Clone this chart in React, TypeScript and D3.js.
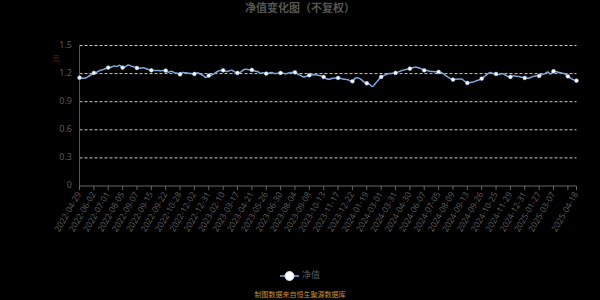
import React from "react";
import * as d3 from "d3";

const dates: string[] = [
  "2022-04-29","2022-05-06","2022-05-13","2022-05-20","2022-05-27","2022-06-02","2022-06-10","2022-06-17","2022-06-24","2022-06-30",
  "2022-07-01","2022-07-08","2022-07-15","2022-07-22","2022-07-29","2022-08-05","2022-08-12","2022-08-19","2022-08-26","2022-09-02",
  "2022-09-07","2022-09-08","2022-09-09","2022-09-13","2022-09-14","2022-09-15","2022-09-16","2022-09-19","2022-09-20","2022-09-21",
  "2022-09-22","2022-09-23","2022-09-30","2022-10-14","2022-10-21","2022-10-28","2022-11-04","2022-11-11","2022-11-18","2022-11-25",
  "2022-12-02","2022-12-09","2022-12-16","2022-12-23","2022-12-30","2022-12-31","2023-01-06","2023-01-13","2023-01-20","2023-02-03",
  "2023-02-10","2023-02-17","2023-02-24","2023-03-03","2023-03-10","2023-03-17","2023-03-24","2023-03-31","2023-04-07","2023-04-14",
  "2023-04-21","2023-04-28","2023-05-05","2023-05-12","2023-05-19","2023-05-26","2023-06-02","2023-06-09","2023-06-16","2023-06-21",
  "2023-06-30","2023-07-07","2023-07-14","2023-07-21","2023-07-28","2023-08-04","2023-08-11","2023-08-18","2023-08-25","2023-09-01",
  "2023-09-08","2023-09-15","2023-09-22","2023-09-28","2023-10-06","2023-10-13","2023-10-20","2023-10-27","2023-11-03","2023-11-10",
  "2023-11-17","2023-11-24","2023-12-01","2023-12-08","2023-12-15","2023-12-22","2023-12-29","2023-12-31","2024-01-05","2024-01-12",
  "2024-01-19","2024-01-26","2024-02-02","2024-02-08","2024-02-23","2024-03-01","2024-03-08","2024-03-15","2024-03-22","2024-03-29",
  "2024-03-31","2024-04-03","2024-04-12","2024-04-19","2024-04-26","2024-04-30","2024-05-10","2024-05-17","2024-05-24","2024-05-31",
  "2024-06-07","2024-06-14","2024-06-21","2024-06-28","2024-06-30","2024-07-05","2024-07-12","2024-07-19","2024-07-26","2024-08-02",
  "2024-08-09","2024-08-16","2024-08-23","2024-08-30","2024-09-06","2024-09-13","2024-09-20","2024-09-23","2024-09-24","2024-09-25",
  "2024-09-26","2024-09-27","2024-09-30","2024-10-11","2024-10-18","2024-10-25","2024-11-01","2024-11-08","2024-11-15","2024-11-22",
  "2024-11-29","2024-12-06","2024-12-13","2024-12-20","2024-12-27","2024-12-31","2025-01-03","2025-01-10","2025-01-17","2025-01-24",
  "2025-01-27","2025-02-07","2025-02-14","2025-02-21","2025-02-28","2025-03-07","2025-03-14","2025-03-21","2025-03-28","2025-03-31",
  "2025-04-03","2025-04-07","2025-04-11","2025-04-18"
];

const navValues: number[] = [
  1.157,1.150,1.152,1.168,1.185,1.207,1.215,1.232,1.242,1.252,
  1.264,1.268,1.282,1.276,1.289,1.264,1.275,1.292,1.280,1.272,
  1.260,1.258,1.262,1.255,1.244,1.235,1.232,1.234,1.230,1.232,
  1.232,1.215,1.226,1.210,1.205,1.193,1.212,1.208,1.205,1.200,
  1.196,1.210,1.195,1.180,1.158,1.179,1.185,1.203,1.222,1.232,
  1.235,1.222,1.228,1.236,1.218,1.207,1.214,1.238,1.246,1.240,
  1.239,1.228,1.222,1.205,1.210,1.200,1.207,1.212,1.200,1.205,
  1.207,1.203,1.198,1.210,1.212,1.214,1.195,1.180,1.164,1.172,
  1.182,1.186,1.188,1.182,1.178,1.164,1.145,1.140,1.150,1.152,
  1.154,1.148,1.140,1.138,1.128,1.118,1.150,1.154,1.138,1.112,
  1.097,1.085,1.062,1.095,1.130,1.164,1.180,1.193,1.200,1.203,
  1.207,1.218,1.230,1.240,1.246,1.253,1.262,1.271,1.262,1.250,
  1.235,1.232,1.225,1.222,1.220,1.218,1.210,1.190,1.168,1.150,
  1.136,1.140,1.142,1.142,1.120,1.100,1.105,1.110,1.122,1.132,
  1.147,1.170,1.195,1.212,1.200,1.196,1.190,1.200,1.188,1.170,
  1.164,1.178,1.172,1.168,1.160,1.154,1.150,1.158,1.170,1.178,
  1.175,1.190,1.200,1.218,1.197,1.225,1.220,1.212,1.205,1.195,
  1.171,1.150,1.135,1.125
];

const yTicks: number[] = [0, 0.3, 0.6, 0.9, 1.2, 1.5];
const labelStep = 5;
const titleText = "净值变化图（不复权）";
const unitText = "元";
const legendText = "净值";
const sourceText = "制图数据来自恒生聚源数据库";

const W = 600;
const H = 300;
const left = 79.5;
const right = 576.5;
const top = 45.5;
const bottom = 186;

export default function App() {
  const x = d3.scalePoint<string>().domain(dates).range([left, right]);
  const y = d3.scaleLinear().domain([0, 1.5]).range([bottom, top]);
  const last = dates.length - 1;

  const line = d3
    .line<number>()
    .x((_, i) => x(dates[i]) as number)
    .y((v) => y(v))
    .curve(d3.curveCatmullRom.alpha(0.5));

  const tickIdx: number[] = [];
  for (let i = 0; i <= last; i += labelStep) tickIdx.push(i);
  const labelIdx = tickIdx.filter((i) => last - i >= labelStep).concat([last]);
  const symbolIdx = tickIdx.concat(tickIdx[tickIdx.length - 1] === last ? [] : [last]);

  const font = "'Noto Sans', 'Noto Sans CJK SC', sans-serif";
  const gray = "#5a5a5a";

  return (
    <svg
      width={W}
      height={H}
      style={{ position: "fixed", left: 0, top: 0, background: "#000" }}
      fontFamily={font}
    >
      <rect x={0} y={0} width={W} height={H} fill="#000" />
      <text x={W / 2} y={12} textAnchor="middle" fontSize={11} fontWeight="bold" fill="#555" fontFamily="'Noto Sans CJK SC', sans-serif">
        {titleText}
      </text>

      {yTicks.map((t) => (
        <g key={t}>
          {t > 0 && (
            <line x1={left} x2={right} y1={y(t)} y2={y(t)} stroke="#c8c8c8" strokeWidth={1} strokeDasharray="3 2" />
          )}
          <text x={72} y={y(t)} textAnchor="end" dominantBaseline="middle" fontSize={9} fill={gray}>
            {String(t)}
          </text>
        </g>
      ))}
      <text x={56} y={61} textAnchor="middle" fontSize={7} fill="#b00000" fontFamily="'Noto Sans CJK SC', sans-serif">
        {unitText}
      </text>

      <line x1={left} x2={left} y1={top} y2={bottom} stroke="#555" strokeWidth={1} />
      <line x1={left} x2={right} y1={bottom} y2={bottom} stroke="#666" strokeWidth={1} />
      {tickIdx.concat([last]).map((i) => (
        <line key={"t" + i} x1={x(dates[i])} x2={x(dates[i])} y1={bottom} y2={bottom + 4} stroke="#666" strokeWidth={1} />
      ))}
      {labelIdx.map((i) => {
        const px = x(dates[i]) as number;
        return (
          <text
            key={"l" + i}
            transform={`translate(${px},${bottom + 7}) rotate(-60)`}
            textAnchor="end"
            dominantBaseline="middle"
            fontSize={8.5}
            fill={gray}
          >
            {dates[i]}
          </text>
        );
      })}

      <path d={line(navValues) || ""} fill="none" stroke="#7fa7dc" strokeWidth={1.5} />
      {symbolIdx.map((i) => (
        <circle key={"s" + i} cx={x(dates[i])} cy={y(navValues[i])} r={1.9} fill="#fff" stroke="#9fbfe8" strokeWidth={0.6} />
      ))}

      <line x1={280} x2={299} y1={276} y2={276} stroke="#7fa7dc" strokeWidth={1.5} />
      <circle cx={289.5} cy={276} r={4.5} fill="#fff" stroke="#cfe0f8" strokeWidth={1} />
      <text x={302} y={276} dominantBaseline="middle" fontSize={9} fill={gray} fontFamily="'Noto Sans CJK SC', sans-serif">
        {legendText}
      </text>
      <text x={W / 2} y={295} textAnchor="middle" dominantBaseline="middle" fontSize={7} fill="#c8902a" fontFamily="'Noto Sans CJK SC', sans-serif">
        {sourceText}
      </text>
    </svg>
  );
}
